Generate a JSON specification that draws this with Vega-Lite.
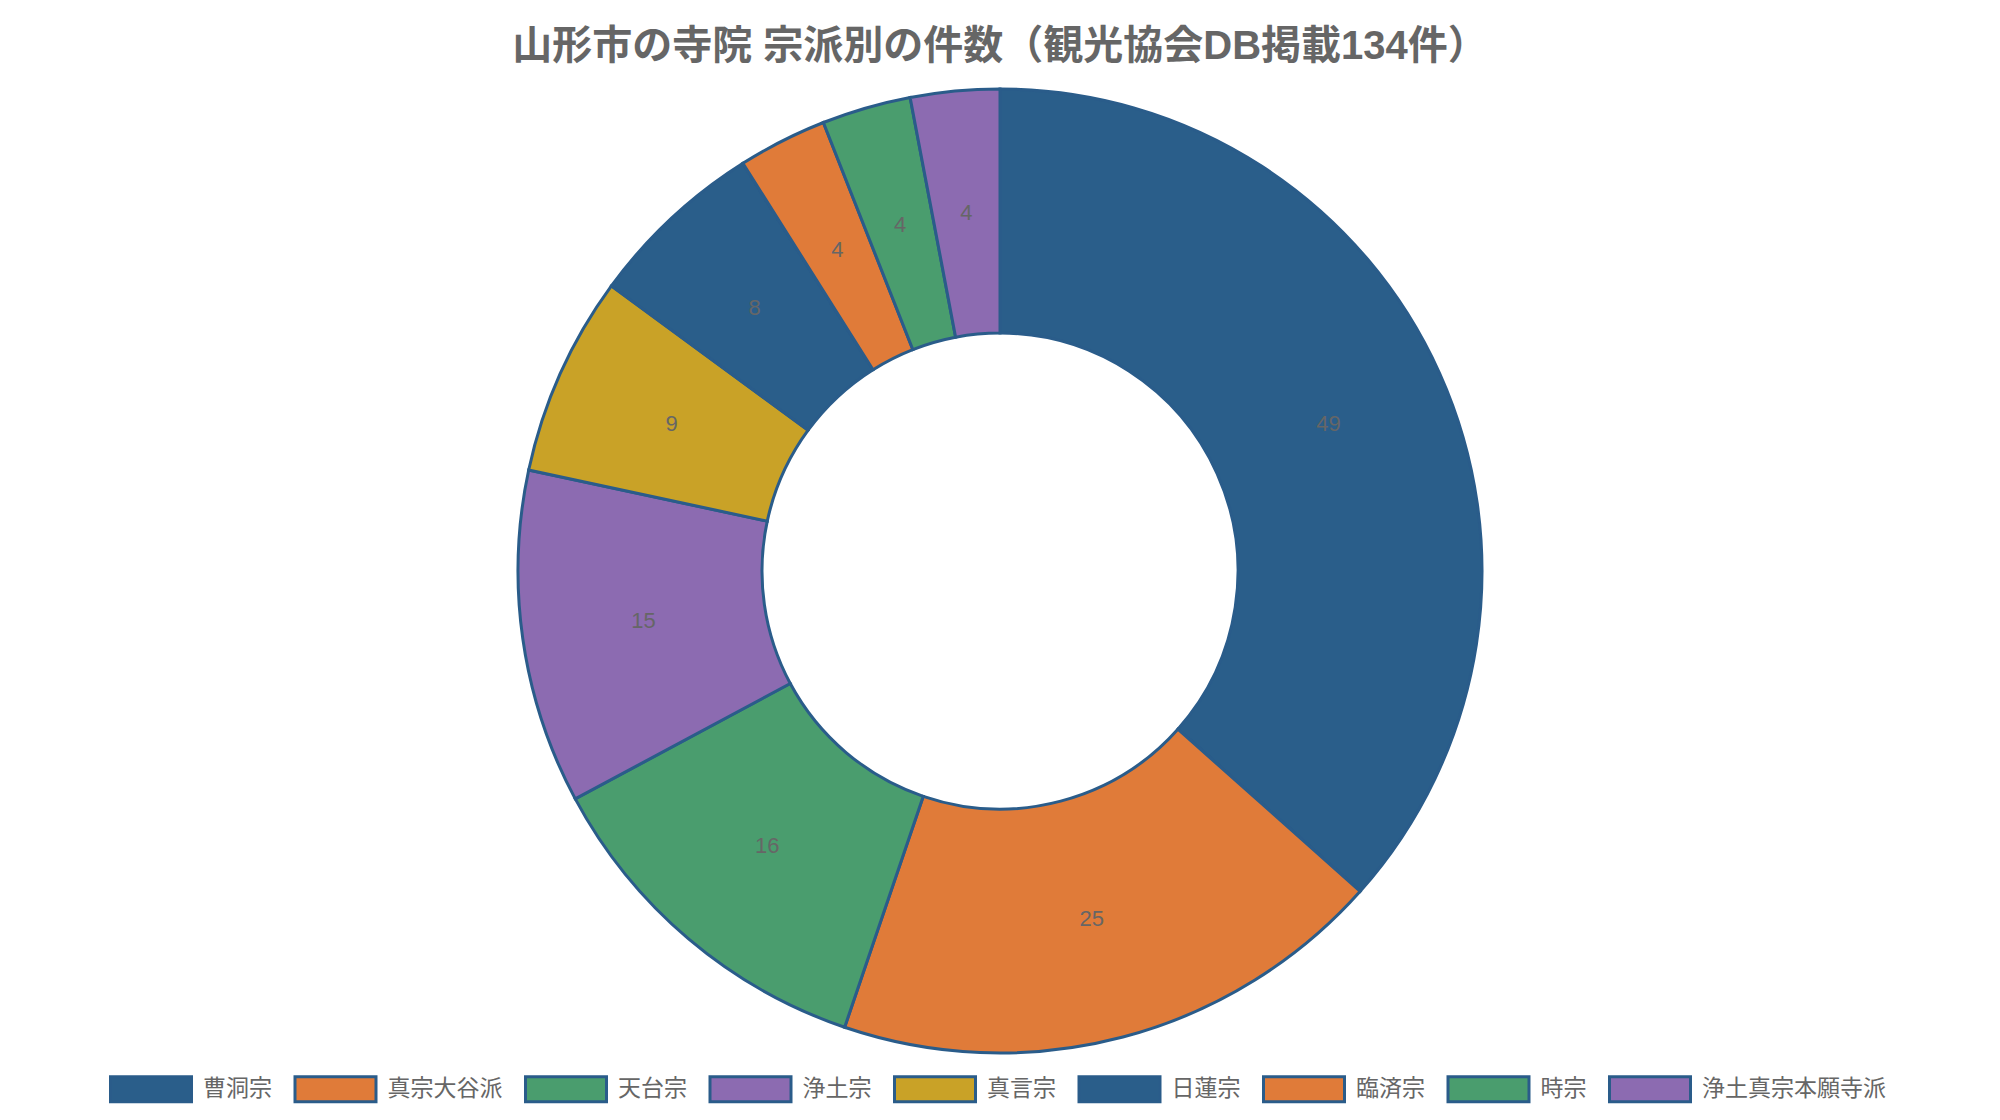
{
  "$schema": "https://vega.github.io/schema/vega-lite/v6.json",
  "width": 2000,
  "height": 1100,
  "autosize": {"type": "none"},
  "padding": {"top": 21, "left": 0, "right": 0, "bottom": 0},
  "background": "white",
  "title": {
    "text": "山形市の寺院 宗派別の件数（観光協会DB掲載134件）",
    "font": "Liberation Sans, Noto Sans CJK JP",
    "fontSize": 40,
    "fontWeight": "bold",
    "color": "#666666",
    "anchor": "middle",
    "offset": -46
  },
  "data": {
    "values": [
      {"sect": "曹洞宗", "count": 49},
      {"sect": "真宗大谷派", "count": 25},
      {"sect": "天台宗", "count": 16},
      {"sect": "浄土宗", "count": 15},
      {"sect": "真言宗", "count": 9},
      {"sect": "日蓮宗", "count": 8},
      {"sect": "臨済宗", "count": 4},
      {"sect": "時宗", "count": 4},
      {"sect": "浄土真宗本願寺派", "count": 4}
    ]
  },
  "encoding": {
    "theta": {"field": "count", "type": "quantitative", "stack": true},
    "order": {"field": "count", "type": "quantitative", "sort": "descending"}
  },
  "layer": [
    {
      "mark": {"type": "arc", "radius": 482, "radius2": 238, "stroke": "#2a5c8a", "strokeWidth": 3},
      "encoding": {
        "color": {
          "field": "sect",
          "type": "nominal",
          "scale": {
            "domain": ["曹洞宗", "真宗大谷派", "天台宗", "浄土宗", "真言宗", "日蓮宗", "臨済宗", "時宗", "浄土真宗本願寺派"],
            "range": ["#2a5e8a", "#e07b39", "#4a9d6e", "#8c6bb1", "#c9a227", "#2a5e8a", "#e07b39", "#4a9d6e", "#8c6bb1"]
          },
          "legend": {
            "title": null,
            "orient": "none",
            "direction": "horizontal",
            "legendX": 109,
            "legendY": 1026,
            "padding": 0,
            "symbolType": "M-1,-0.309H1V0.309H-1Z",
            "symbolSize": 6561,
            "symbolStrokeColor": "#2a5c8a",
            "symbolStrokeWidth": 3,
            "symbolOpacity": 1,
            "labelFont": "Liberation Sans, Noto Sans CJK JP",
            "labelFontSize": 23,
            "labelColor": "#666666",
            "labelOffset": 10,
            "labelLimit": 400,
            "columnPadding": 16.5
          }
        }
      }
    },
    {
      "mark": {"type": "text", "radius": 360, "font": "Liberation Sans, Noto Sans CJK JP", "fontSize": 22, "color": "#666666"},
      "encoding": {
        "text": {"field": "count", "type": "quantitative"}
      }
    }
  ]
}
